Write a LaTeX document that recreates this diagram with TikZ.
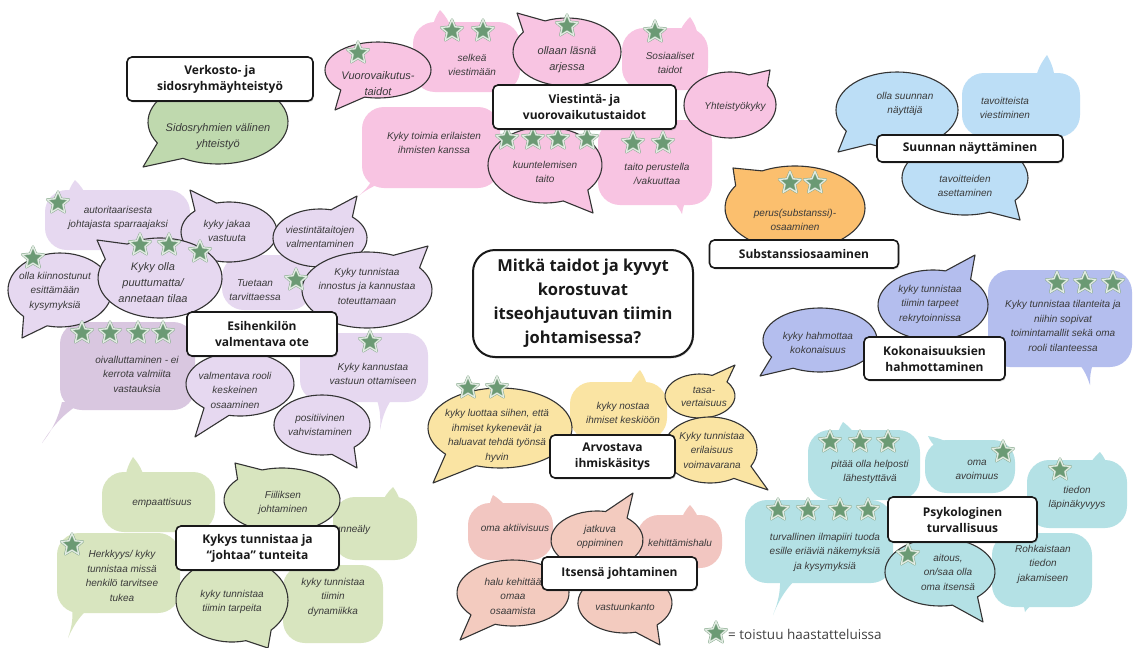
\documentclass[tikz,border=0pt]{standalone}
\usepackage{fontspec}
\setmainfont{Liberation Sans}
\newfontfamily\tfont{Open Sans}
\usetikzlibrary{shapes.geometric,shadows}
\definecolor{gV}{HTML}{BFD9AE}
\definecolor{pk}{HTML}{F8C4E2}
\definecolor{bl}{HTML}{BCDEF6}
\definecolor{orn}{HTML}{FBBF6E}
\definecolor{pu}{HTML}{E6D8F0}
\definecolor{puD}{HTML}{D9C7E0}
\definecolor{lv}{HTML}{B4BEEE}
\definecolor{ye}{HTML}{FAE4A3}
\definecolor{gr}{HTML}{D8E5BF}
\definecolor{sa}{HTML}{F2C6C1}
\definecolor{saB}{HTML}{F3CBBF}
\definecolor{te}{HTML}{B4E1E5}
\definecolor{stG}{HTML}{6B9A74}
\definecolor{stO}{HTML}{86A88C}
\definecolor{stD}{HTML}{E2ECE3}
\definecolor{txt}{HTML}{3A3A3A}
\newcounter{stc}
\newcommand\bubE[7]{%
  \pgfmathsetmacro\bta{atan2(((#6)-(#2))/(#4),((#5)-(#1))/(#3))}%
  \filldraw[bubline,fill=#7] (#1,#2) ++(\bta+15:#3 and #4)
    arc[start angle=\bta+15,end angle=\bta+345,x radius=#3,y radius=#4]
    -- (#5,#6) -- cycle;}
\newcommand\bubR[9]{%
  \fill[#5,rounded corners=22] (#1,#2) rectangle (#3,#4);
  \fill[#5] (#6-10,#7) to[bend left=12] (#8,#9) to[bend left=12] (#6+10,#7) -- cycle;}
\newcommand\bubRn[5]{%
  \fill[#5,rounded corners=22] (#1,#2) rectangle (#3,#4);}
\newcommand\st[2]{\stepcounter{stc}\node[starn] (st\arabic{stc}) at (#1,#2) {};}
\tikzset{
  bubline/.style={draw=black!80,line width=1.1pt,line join=round},
  itx/.style={font=\itshape\fontsize{10}{14.5}\selectfont,text=txt,align=center,inner sep=0pt},
  itL/.style={font=\itshape\fontsize{11}{16}\selectfont,text=txt,align=center,inner sep=0pt},
  tbox/.style={draw=black!90,fill=white,line width=1.6pt,rounded corners=5pt,
    font=\tfont\bfseries\fontsize{12}{16}\selectfont,text=black!90,align=center,inner sep=0pt,
    drop shadow={shadow xshift=1pt,shadow yshift=-1.5pt,opacity=0.25}},
  starn/.style={star,star points=5,star point ratio=2.2,minimum size=23pt,inner sep=0pt,
    fill=stG,draw=stO,double=stD,double distance=1.3pt,line width=0.5pt,line join=round}
}
\begin{document}
\begin{tikzpicture}[x=1pt,y=-1pt]
\fill[white] (0,0) rectangle (1136,648);
\useasboundingbox (0,0) rectangle (1136,648);

% ---------- Verkosto
\bubE{218}{122}{70}{42}{143}{167}{gV}
\node[itL] (vk1) at (218,137) {Sidosryhmien välinen\\yhteistyö};

% ---------- Pink
\bubR{362}{107}{500}{188}{pk}{382}{180}{357}{197}
\node[itx] (pk6) at (434,143) {Kyky toimia erilaisten\\ihmisten kanssa};
\bubR{413}{22}{520}{92}{pk}{442}{30}{440}{10}
\bubR{622}{28}{708}{90}{pk}{688}{36}{690}{17}
\bubR{598}{120}{712}{205}{pk}{678}{197}{682}{214}
\bubE{378}{70}{53}{28}{335}{110}{pk}
\bubE{567}{52}{54}{34}{517}{13}{pk}
\bubE{730}{105}{46}{33}{770}{70}{pk}
\bubE{545}{165}{57}{38}{593}{213}{pk}
\node[itL] (pk1) at (378,84) {Vuorovaikutus-\\taidot};
\node[itx] (pk2) at (472,65) {selkeä\\viestimään};
\node[itL] (pk3) at (567,60) {ollaan läsnä\\arjessa};
\node[itx] (pk4) at (670,63) {Sosiaaliset\\taidot};
\node[itx] (pk5) at (735,107) {Yhteistyökyky};
\node[itx] (pk7) at (545,172) {kuuntelemisen\\taito};
\node[itx] (pk8) at (657,174) {taito perustella\\/vakuuttaa};
\st{358}{53}\st{452}{31}\st{483}{31}\st{567}{26}\st{655}{32}
\st{507}{139}\st{533}{139}\st{558}{139}\st{587}{139}
\st{633}{143}\st{663}{143}

% ---------- Blue
\bubR{962}{73}{1080}{137}{bl}{1045}{81}{1047}{55}
\bubE{897}{110}{61}{38}{838}{152}{bl}
\bubE{965}{178}{63}{37}{1020}{220}{bl}
\node[itx] (bl1) at (905,104) {olla suunnan\\näyttäjä};
\node[itx] (bl2) at (1005,108) {tavoitteista\\viestiminen};
\node[itx] (bl3) at (965,186) {tavoitteiden\\asettaminen};

% ---------- Orange
\bubE{795}{208}{70}{42}{733}{168}{orn}
\node[itx] (or1) at (795,220) {perus(substanssi)-\\osaaminen};
\st{790}{183}\st{815}{183}

% ---------- Purple
\bubR{45}{190}{190}{250}{pu}{77}{198}{75}{180}
\bubR{222}{255}{312}{310}{pu}{300}{263}{300}{263}
\bubR{60}{322}{195}{410}{puD}{72}{402}{42}{443}
\bubR{300}{333}{428}{402}{pu}{385}{394}{380}{430}
\bubE{229}{232}{48}{30}{190}{190}{pu}
\bubE{320}{238}{47}{29}{357}{196}{pu}
\bubE{60}{290}{52}{37}{22}{338}{pu}
\bubE{160}{278}{62}{40}{97}{240}{pu}
\bubE{367}{290}{65}{38}{428}{246}{pu}
\bubE{240}{384}{54}{32}{195}{437}{pu}
\bubE{322}{425}{48}{30}{357}{468}{pu}
\node[itx] (pu1) at (118,218) {autoritaarisesta\\johtajasta sparraajaksi};
\node[itx] (pu2) at (55,291) {olla kiinnostunut\\esittämään\\kysymyksiä};
\node[itL] (pu3) at (153,283) {Kyky olla\\puuttumatta/\\annetaan tilaa};
\node[itx] (pu4) at (227,231) {kyky jakaa\\vastuuta};
\node[itx] (pu5) at (320,237) {viestintätaitojen\\valmentaminen};
\node[itx] (pu6) at (255,290) {Tuetaan\\tarvittaessa};
\node[itx] (pu7) at (367,286) {Kyky tunnistaa\\innostus ja kannustaa\\toteuttamaan};
\node[itx] (pu8) at (137,374) {oivalluttaminen - ei\\kerrota valmiita\\vastauksia};
\node[itx] (pu9) at (235,390) {valmentava rooli\\keskeinen\\osaaminen};
\node[itx] (pu10) at (373,374) {Kyky kannustaa\\vastuun ottamiseen};
\node[itx] (pu11) at (320,425) {positiivinen\\vahvistaminen};
\st{58}{203}\st{33}{258}\st{140}{245}\st{169}{245}\st{200}{252}\st{296}{280}
\st{82}{333}\st{110}{333}\st{138}{333}\st{163}{333}\st{370}{342}

% ---------- Lavender
\bubR{988}{270}{1132}{367}{lv}{1085}{359}{1090}{385}
\bubE{820}{340}{57}{32}{760}{376}{lv}
\bubE{933}{305}{55}{35}{975}{255}{lv}
\node[itx] (lv1) at (818,343) {kyky hahmottaa\\kokonaisuus};
\node[itx] (lv2) at (930,304) {kyky tunnistaa\\tiimin tarpeet\\rekrytoinnissa};
\node[itx] (lv3) at (1063,326) {Kyky tunnistaa tilanteita ja\\niihin sopivat\\toimintamallit sekä oma\\rooli tilanteessa};
\st{1057}{283}\st{1085}{283}\st{1113}{283}

% ---------- Yellow
\bubR{570}{382}{667}{440}{ye}{638}{390}{640}{370}
\bubE{500}{428}{72}{40}{433}{483}{ye}
\bubE{700}{396}{35}{22}{735}{365}{ye}
\bubE{710}{450}{47}{33}{768}{490}{ye}
\node[itx] (ye1) at (497,436) {kyky luottaa siihen, että\\ihmiset kykenevät ja\\haluavat tehdä työnsä\\hyvin};
\node[itx] (ye2) at (623,413) {kyky nostaa\\ihmiset keskiöön};
\node[itx,font=\itshape\fontsize{10}{13}\selectfont] (ye3) at (704,397) {tasa-\\vertaisuus};
\node[itx] (ye4) at (712,450) {Kyky tunnistaa\\erilaisuus\\voimavarana};
\st{468}{388}\st{497}{388}

% ---------- Green
\bubR{102}{472}{215}{532}{gr}{135}{480}{133}{457}
\bubR{333}{497}{417}{560}{gr}{391}{505}{393}{487}
\bubR{57}{533}{180}{613}{gr}{82}{605}{68}{638}
\bubRn{283}{565}{383}{643}{gr}
\bubE{282}{500}{58}{32}{235}{463}{gr}
\bubE{232}{600}{56}{42}{268}{648}{gr}
\node[itx] (gr1) at (162,503) {empaattisuus};
\node[itx] (gr2) at (283,503) {Fiiliksen\\johtaminen};
\node[itx] (gr3) at (350,530) {Tunneäly};
\node[itx] (gr4) at (122,576) {Herkkyys/ kyky\\tunnistaa missä\\henkilö tarvitsee\\tukea};
\node[itx] (gr5) at (232,602) {kyky tunnistaa\\tiimin tarpeita};
\node[itx] (gr6) at (333,597) {kyky tunnistaa\\tiimin\\dynamiikka};
\st{72}{545}

% ---------- Salmon
\bubR{468}{503}{553}{560}{sa}{499}{511}{493}{495}
\bubR{637}{515}{722}{568}{sa}{690}{523}{690}{505}
\bubE{597}{540}{46}{29}{633}{493}{saB}
\bubE{513}{593}{56}{33}{460}{640}{saB}
\bubE{625}{603}{47}{30}{660}{645}{saB}
\node[itx] (sa1) at (515,528) {oma aktiivisuus};
\node[itx] (sa2) at (600,537) {jatkuva\\oppiminen};
\node[itx] (sa3) at (680,543) {kehittämishalu};
\node[itx] (sa4) at (513,596) {halu kehittää\\omaa\\osaamista};
\node[itx] (sa5) at (625,607) {vastuunkanto};

% ---------- Teal
\bubR{808}{430}{920}{500}{te}{847}{438}{843}{422}
\bubR{925}{440}{1015}{493}{te}{947}{448}{928}{436}
\bubR{1027}{460}{1127}{528}{te}{1098}{468}{1100}{452}
\bubR{745}{500}{893}{583}{te}{790}{575}{773}{615}
\bubR{992}{533}{1092}{607}{te}{1030}{599}{1025}{612}
\bubE{940}{572}{55}{34}{983}{622}{te}
\node[itx] (te1) at (870,472) {pitää olla helposti\\lähestyttävä};
\node[itx] (te2) at (977,470) {oma\\avoimuus};
\node[itx] (te3) at (1077,498) {tiedon\\läpinäkyvyys};
\node[itx] (te4) at (825,552) {turvallinen ilmapiiri tuoda\\esille eriäviä näkemyksiä\\ja kysymyksiä};
\node[itx] (te5) at (948,572) {aitous,\\on/saa olla\\oma itsensä};
\node[itx] (te6) at (1043,564) {Rohkaistaan\\tiedon\\jakamiseen};
\st{830}{442}\st{860}{442}\st{888}{442}\st{1003}{452}\st{1060}{470}
\st{778}{510}\st{808}{510}\st{840}{510}\st{868}{510}\st{908}{555}

% ---------- Title boxes
\node[tbox,minimum width=186pt,minimum height=44pt] (T1) at (220,79) {Verkosto- ja\\sidosryhmäyhteistyö};
\node[tbox,minimum width=183pt,minimum height=44pt] (T2) at (584.5,107) {Viestintä- ja\\vuorovaikutustaidot};
\node[tbox,minimum width=186pt,minimum height=27pt] (T3) at (970,148.5) {Suunnan näyttäminen};
\node[tbox,minimum width=189pt,minimum height=28pt] (T4) at (804,254) {Substanssiosaaminen};
\node[tbox,minimum width=150pt,minimum height=44pt] (T5) at (262,334) {Esihenkilön\\valmentava ote};
\node[tbox,minimum width=141pt,minimum height=43pt] (T6) at (934.5,358.5) {Kokonaisuuksien\\hahmottaminen};
\node[tbox,minimum width=125pt,minimum height=43pt] (T7) at (612.5,456.5) {Arvostava\\ihmiskäsitys};
\node[tbox,minimum width=163pt,minimum height=44pt] (T8) at (257.5,548) {Kykys tunnistaa ja\\“johtaa” tunteita};
\node[tbox,minimum width=155pt,minimum height=33pt] (T9) at (619.5,573.5) {Itsensä johtaminen};
\node[tbox,minimum width=149pt,minimum height=45pt] (T10) at (962.5,519.5) {Psykologinen\\turvallisuus};
\node[tbox,rounded corners=22pt,line width=2pt,minimum width=220pt,minimum height=107pt,
  font=\tfont\bfseries\fontsize{16.5}{24}\selectfont] (Q) at (583,303.5)
  {Mitkä taidot ja kyvyt\\korostuvat\\itseohjautuvan tiimin\\johtamisessa?};

% ---------- Legend
\st{716}{633}
\node[anchor=west,inner sep=0pt,font=\tfont\fontsize{13.5}{16}\selectfont,text=black!75] (leg) at (728,634) {= toistuu haastatteluissa};
\end{tikzpicture}
\end{document}
